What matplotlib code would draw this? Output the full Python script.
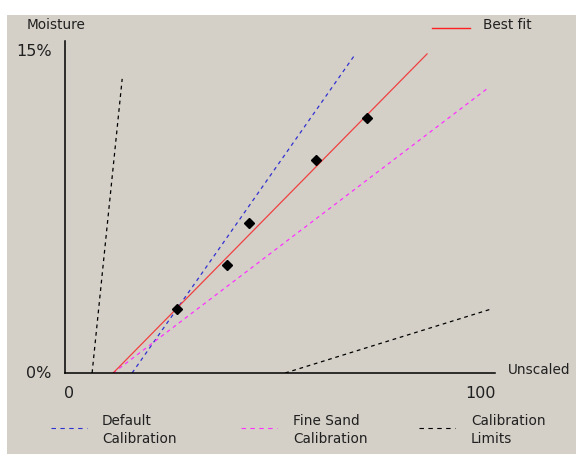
import matplotlib.pyplot as plt
from matplotlib.patches import Rectangle
from matplotlib.lines import Line2D

# data (unscaled reading vs moisture %)
pts_x = [26.0, 37.7, 42.8, 58.4, 70.2]
pts_y = [2.97, 5.02, 6.97, 9.89, 11.84]

fit_x = [11.2, 84.2]
fit_y = [0.0, 14.82]
default_x = [15.6, 67.2]
default_y = [0.0, 14.72]
sand_x = [11.2, 98.4]
sand_y = [0.0, 13.24]
lim_lo_x = [6.3, 13.3]
lim_lo_y = [0.0, 13.66]
lim_hi_x = [51.2, 99.1]
lim_hi_y = [0.0, 2.97]

W, H = 576, 457
bg = '#d4d0c8'
fs = 9.8

fig = plt.figure(figsize=(W / 100, H / 100), dpi=100)
fig.patch.set_facecolor('white')
fig.patches.append(Rectangle((7 / W, 1 - 454 / H), 1 - 7 / W, (454 - 15) / H,
                             transform=fig.transFigure, facecolor=bg,
                             edgecolor='none', zorder=-1))

ax = fig.add_axes([65 / W, 1 - 373 / H, (495 - 65) / W, (373 - 41) / H])
ax.set_zorder(2)
ax.set_facecolor('none')
ax.set_xlim(0, 100)
ax.set_ylim(0, 15.42)
for s in ['top', 'right']:
    ax.spines[s].set_visible(False)
for s in ['left', 'bottom']:
    ax.spines[s].set_linewidth(1.1)
ax.set_xticks([])
ax.set_yticks([])

lw = 0.9
ax.plot(lim_lo_x, lim_lo_y, color='black', lw=lw, dashes=(3, 3))
ax.plot(lim_hi_x, lim_hi_y, color='black', lw=lw, dashes=(3, 3))
ax.plot(default_x, default_y, color='#3030d0', lw=lw, dashes=(3, 3))
ax.plot(sand_x, sand_y, color='#ff30ff', lw=lw, dashes=(3, 3))
ax.plot(fit_x, fit_y, color='#f04040', lw=lw)
ax.plot(pts_x, pts_y, 'D', color='black', markersize=5, zorder=5)

# axis labels and tick labels
tc = '#202020'
def ftext(px, py, s, ha='left', va='center', size=fs):
    fig.text(px / W, 1 - py / H, s, ha=ha, va=va, fontsize=size, color=tc)

ftext(27, 25, 'Moisture')
ftext(52, 52, '15%', ha='right', size=11.5)
ftext(51, 374, '0%', ha='right', size=11.5)
ftext(508, 370, 'Unscaled')
ftext(64, 394, '0', size=11.5)
ftext(496, 394, '100', ha='right', size=11.5)

# top legend
fig.add_artist(Line2D([432 / W, 470 / W], [1 - 28 / H, 1 - 28 / H],
                      color='#ff2020', lw=1))
ftext(483, 25, 'Best fit')

# bottom legend
legend = [('Default\nCalibration', '#3030d0', 51, 102),
          ('Fine Sand\nCalibration', '#ff30ff', 241, 293),
          ('Calibration\nLimits', 'black', 419, 471)]
for label, col, lx, tx in legend:
    fig.add_artist(Line2D([lx / W, (lx + 36) / W], [1 - 428 / H, 1 - 428 / H],
                          color=col, lw=0.8, dashes=(4, 4)))
    fig.text(tx / W, 1 - 430 / H, label, ha='left', va='center',
             fontsize=fs, color=tc, linespacing=1.45)

fig.savefig('out.png', dpi=100, facecolor=fig.get_facecolor())
